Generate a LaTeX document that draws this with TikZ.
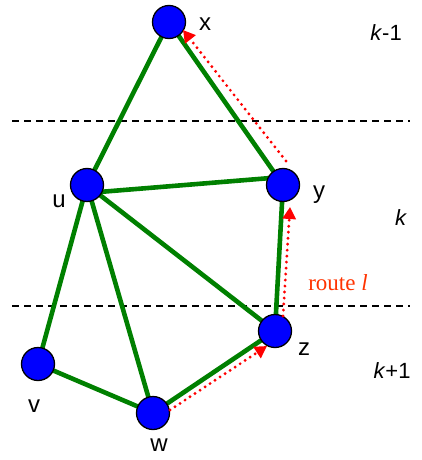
\documentclass[tikz,border=0pt]{standalone}
\usepackage{fontspec}
\setmainfont{Liberation Serif}
\setsansfont{Liberation Sans}
\usetikzlibrary{arrows.meta}
\definecolor{edgegreen}{RGB}{0,128,0}
\definecolor{routered}{RGB}{255,0,0}
\definecolor{routetext}{RGB}{255,51,0}
\begin{document}
\begin{tikzpicture}[x=1pt,y=-1pt,
  vert/.style={circle,draw=black,line width=1.3pt,fill=blue,minimum size=33pt,inner sep=0pt},
  lab/.style={font=\sffamily\fontsize{24}{24}\selectfont,inner sep=0pt},
  layer/.style={font=\sffamily\fontsize{22}{22}\selectfont,inner sep=0pt},
  edge/.style={draw=edgegreen,line width=4.6pt},
  sep/.style={draw=black,line width=1.6pt,dash pattern=on 7pt off 5pt},
  route/.style={draw=routered,line width=3.2pt,line cap=round,dash pattern=on 0pt off 6pt,
     -{Triangle[width=13pt,length=12pt,line cap=butt]}}]
\useasboundingbox (0,0) rectangle (422,460);
% dashed layer separators
\coordinate (d1a) at (12,121); \coordinate (d1b) at (410,121);
\coordinate (d2a) at (12,306); \coordinate (d2b) at (410,306);
\draw[sep] (d1a) -- (d1b);
\draw[sep] (d2a) -- (d2b);
% vertex positions
\coordinate (px) at (169,22);
\coordinate (pu) at (87,185);
\coordinate (py) at (283,185);
\coordinate (pz) at (275,331);
\coordinate (pv) at (38,364);
\coordinate (pw) at (153,413);
% u-y edge meets the circles off-centre
\coordinate (puy) at (87,193);
\coordinate (pyu) at (283,177);
% edges (vertices drawn on top)
\draw[edge] (px) -- (pu);
\draw[edge] (px) -- (py);
\draw[edge] (puy) -- (pyu);
\draw[edge] (pu) -- (pz);
\draw[edge] (pu) -- (pv);
\draw[edge] (pu) -- (pw);
\draw[edge] (py) -- (pz);
\draw[edge] (pv) -- (pw);
\draw[edge] (pw) -- (pz);
% vertices
\node[vert] (x) at (px) {};
\node[vert] (u) at (pu) {};
\node[vert] (y) at (py) {};
\node[vert] (z) at (pz) {};
\node[vert] (v) at (pv) {};
\node[vert] (w) at (pw) {};
% labels
\node[lab] (lx) at (205,24) {x};
\node[lab] (lu) at (59,201) {u};
\node[lab] (ly) at (319,195) {y};
\node[lab] (lz) at (304,349) {z};
\node[lab] (lv) at (34,406) {v};
\node[lab] (lw) at (159,445) {w};
\node[layer] (l1) at (386,33) {\textit{k}-1};
\node[layer] (l2) at (401,218) {\textit{k}};
\node[layer] (l3) at (392,371) {\textit{k}+1};
\node[font=\fontsize{23}{23}\selectfont,text=routetext,inner sep=0pt] (rl) at (338,283) {route \textit{l}};
% route arrows
\coordinate (r1s) at (286,161); \coordinate (r1e) at (183,30);
\coordinate (r2s) at (283,316); \coordinate (r2e) at (290,207);
\coordinate (r3s) at (170,410); \coordinate (r3e) at (267,346);
\draw[route] (r1s) -- (r1e);
\draw[route] (r2s) -- (r2e);
\draw[route] (r3s) -- (r3e);
\end{tikzpicture}
\end{document}
